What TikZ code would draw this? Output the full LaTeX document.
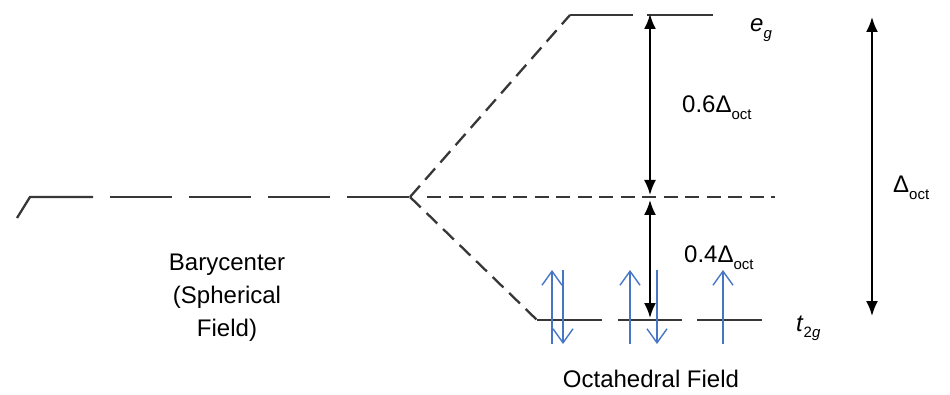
\documentclass[tikz,border=0pt]{standalone}
\usepackage{fontspec}
\setmainfont{Liberation Sans}
\usetikzlibrary{arrows.meta}
\definecolor{lvl}{RGB}{55,55,55}
\definecolor{spin}{RGB}{70,118,196}
\newcommand{\dsub}[1]{\raisebox{-0.28em}{\fontsize{15}{15}\selectfont #1}}
\tikzset{
  level/.style={draw=lvl, line width=2.3pt},
  longdash/.style={level, dash pattern=on 62pt off 17pt},
  slantdash/.style={level, dash pattern=on 15pt off 8pt},
  middash/.style={level, line width=2.6pt, dash pattern=on 14pt off 7.5pt},
  gap/.style={draw=black, line width=2pt, {Latex[length=15pt,width=12pt]}-{Latex[length=15pt,width=12pt]}},
  elec/.style={draw=spin, line width=1.4pt, -{Straight Barb[length=14pt,width=20pt,line width=1.4pt]}},
  lbl/.style={font=\fontsize{24}{33}\selectfont, inner sep=0pt},
}
\begin{document}
\begin{tikzpicture}[x=1pt,y=-1pt]
\useasboundingbox (0,0) rectangle (950,395);
% coordinates
\coordinate (L0) at (17,218);
\coordinate (L1) at (30,197);
\coordinate (L2) at (93,197);
\coordinate (B0) at (110,197);
\coordinate (split) at (410,197);
\coordinate (egL) at (570,15);
\coordinate (egM) at (633,15);
\coordinate (egN) at (647,15);
\coordinate (egR) at (713,15);
\coordinate (midR) at (775,197);
\coordinate (tA) at (537,320);
\coordinate (tB) at (602,320);
\coordinate (tC) at (618,320);
\coordinate (tD) at (682,320);
\coordinate (tE) at (697,320);
\coordinate (tF) at (762,320);
\coordinate (a1top) at (650,14);
\coordinate (a1bot) at (650,195);
\coordinate (a2top) at (650,200);
\coordinate (a2bot) at (650,318);
\coordinate (btop) at (872,17);
\coordinate (bbot) at (872,316);
% barycenter level
\draw[level] (L0) -- (L1) -- (L2);
\draw[longdash] (B0) -- (split);
% e_g branch
\draw[slantdash] (split) -- (egL);
\draw[level] (egL) -- (egM);
\draw[level] (egN) -- (egR);
% middle
\draw[middash] (split) ++(17,0) coordinate (m0) (m0) -- (midR);
% t2g branch
\draw[slantdash] (split) -- (tA);
\draw[level] (tA) -- (tB);
\draw[level] (tC) -- (tD);
\draw[level] (tE) -- (tF);
% gap arrows
\draw[gap] (a1bot) -- (a1top);
\draw[gap] (a2top) -- (a2bot);
\draw[gap, line width=2pt] (btop) -- (bbot);
% electrons
\coordinate (u1a) at (552,344); \coordinate (u1b) at (552,270);
\coordinate (d1a) at (563,270); \coordinate (d1b) at (563,344);
\coordinate (u2a) at (630,344); \coordinate (u2b) at (630,270);
\coordinate (d2a) at (657,270); \coordinate (d2b) at (657,344);
\coordinate (u3a) at (723,344); \coordinate (u3b) at (723,270);
\draw[elec] (u1a) -- (u1b);
\draw[elec] (d1a) -- (d1b);
\draw[elec] (u2a) -- (u2b);
\draw[elec] (d2a) -- (d2b);
\draw[elec] (u3a) -- (u3b);
% labels
\node[lbl, anchor=base west] (eg) at (750,32) {\textit{e}\dsub{\textit{g}}};
\node[lbl, anchor=base west] (t2g) at (796,331) {\textit{t}\dsub{2\textit{g}}};
\node[lbl, anchor=base west] (l06) at (682,113) {0.6Δ\dsub{oct}};
\node[lbl, anchor=base west] (l04) at (684,263) {0.4Δ\dsub{oct}};
\node[lbl, anchor=base west] (ld) at (893,193) {Δ\dsub{oct}};
\node[lbl, align=center] (bary) at (227,298) {Barycenter\\(Spherical\\Field)};
\node[lbl] (oct) at (651,379) {Octahedral Field};
\end{tikzpicture}
\end{document}
